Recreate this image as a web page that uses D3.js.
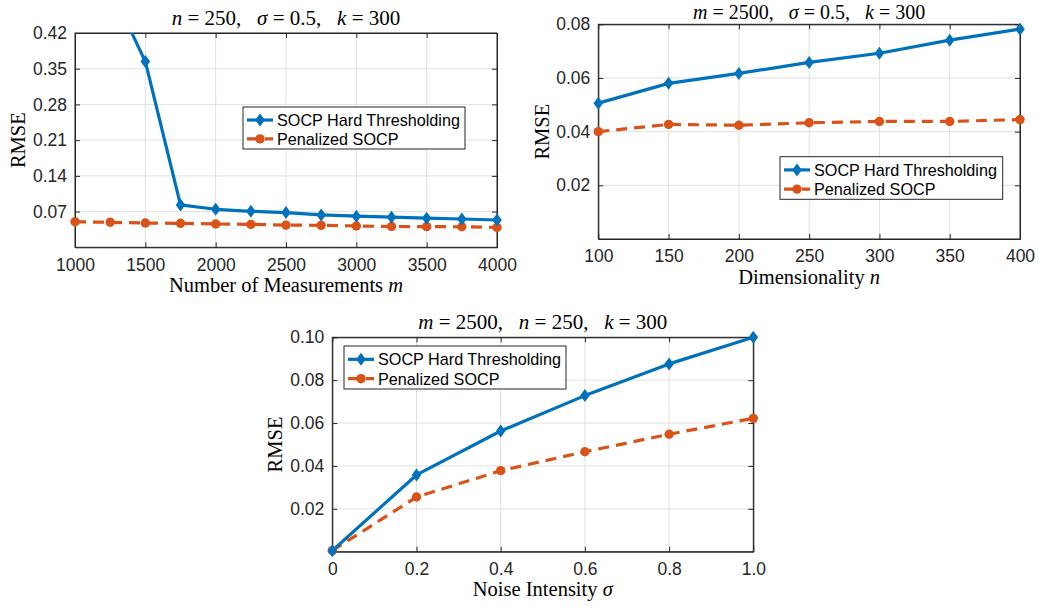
<!DOCTYPE html>
<html><head><meta charset="utf-8">
<script src="https://cdn.jsdelivr.net/npm/d3@7"></script>
<style>
html,body{margin:0;padding:0;background:#fff;}
svg{display:block;}
</style></head>
<body>
<svg id="chart" width="1038" height="606"></svg>
<script>
// ---------- data ----------
const seriesNames = ["SOCP Hard Thresholding", "Penalized SOCP"];

// Panel 1: vs number of measurements m (n=250, sigma=0.5, k=300)
const m1 = [1000, 1250, 1500, 1750, 2000, 2250, 2500, 2750, 3000, 3250, 3500, 3750, 4000];
const hard1 = [0.60, 0.51, 0.364, 0.083, 0.0745, 0.0705, 0.068, 0.0635, 0.061, 0.059, 0.057, 0.0555, 0.0535];
const pen1 = [0.050, 0.049, 0.0476, 0.047, 0.0457, 0.045, 0.0435, 0.0431, 0.0418, 0.0408, 0.0405, 0.0402, 0.039];
const xTicks1 = [1000, 1500, 2000, 2500, 3000, 3500, 4000];
const yTicks1 = [0.07, 0.14, 0.21, 0.28, 0.35, 0.42];
const yTickLabels1 = ["0.07", "0.14", "0.21", "0.28", "0.35", "0.42"];

// Panel 2: vs dimensionality n (m=2500, sigma=0.5, k=300)
const n2 = [100, 150, 200, 250, 300, 350, 400];
const hard2 = [0.0506, 0.058, 0.0617, 0.0658, 0.0692, 0.0741, 0.0782];
const pen2 = [0.0400, 0.0427, 0.0424, 0.0433, 0.0438, 0.0438, 0.0445];
const xTicks2 = [100, 150, 200, 250, 300, 350, 400];
const yTicks2 = [0.02, 0.04, 0.06, 0.08];
const yTickLabels2 = ["0.02", "0.04", "0.06", "0.08"];

// Panel 3: vs noise intensity sigma (m=2500, n=250, k=300)
const s3 = [0, 0.2, 0.4, 0.6, 0.8, 1.0];
const hard3 = [0.0005, 0.0358, 0.0563, 0.0728, 0.0876, 0.100];
const pen3 = [0.0005, 0.0255, 0.0378, 0.0466, 0.0548, 0.0622];
const xTicks3 = [0, 0.2, 0.4, 0.6, 0.8, 1.0];
const xTickLabels3 = ["0", "0.2", "0.4", "0.6", "0.8", "1.0"];
const yTicks3 = [0.02, 0.04, 0.06, 0.08, 0.10];
const yTickLabels3 = ["0.02", "0.04", "0.06", "0.08", "0.10"];

// ---------- style ----------
const BLUE = "#0072BD", ORANGE = "#D95319", AXIS = "#262626", GRID = "#e1e1e1";
const SANS = "'Liberation Sans', Arial, Helvetica, sans-serif";
const SERIF = "'Liberation Serif', 'Times New Roman', serif";

const svg = d3.select("#chart");
const defs = svg.append("defs");
let clipId = 0;

function mathText(g, parts) {
  parts.forEach(([t, it]) => {
    g.append("tspan").attr("font-style", it ? "italic" : "normal").text(t);
  });
}

function drawPanel(cfg) {
  const {left, right, top, bottom} = cfg.box;
  const x = d3.scaleLinear().domain(cfg.xDomain).range([left, right]);
  const y = d3.scaleLinear().domain(cfg.yDomain).range([bottom, top]);
  const g = svg.append("g");

  // grid
  const grid = g.append("g").attr("stroke", GRID).attr("stroke-width", 1);
  cfg.xTicks.forEach(t => {
    if (x(t) > left + 0.5 && x(t) < right - 0.5)
      grid.append("line").attr("x1", x(t)).attr("x2", x(t)).attr("y1", top).attr("y2", bottom);
  });
  cfg.yTicks.forEach(t => {
    if (y(t) > top + 0.5 && y(t) < bottom - 0.5)
      grid.append("line").attr("y1", y(t)).attr("y2", y(t)).attr("x1", left).attr("x2", right);
  });

  const fmtX = cfg.xTickLabels ? (d, i) => cfg.xTickLabels[i] : d3.format("d");
  const fmtY = (d, i) => cfg.yTickLabels[i];
  const axB = d3.axisBottom(x).tickValues(cfg.xTicks).tickFormat(fmtX).tickSizeInner(-5).tickSizeOuter(0).tickPadding(11);
  const axT = d3.axisTop(x).tickValues(cfg.xTicks).tickFormat("").tickSizeInner(-5).tickSizeOuter(0);
  const axL = d3.axisLeft(y).tickValues(cfg.yTicks).tickFormat(fmtY).tickSizeInner(-5).tickSizeOuter(0).tickPadding(8);
  const axR = d3.axisRight(y).tickValues(cfg.yTicks).tickFormat("").tickSizeInner(-5).tickSizeOuter(0);

  const styleAxis = sel => {
    sel.selectAll("path.domain").attr("stroke", AXIS).attr("stroke-width", 1);
    sel.selectAll(".tick line").attr("stroke", AXIS).attr("stroke-width", 1);
    sel.selectAll(".tick text").attr("fill", AXIS).attr("font-family", SANS).attr("font-size", 17.5);
  };
  const gB = g.append("g").attr("transform", `translate(0,${bottom})`).call(axB);
  const gT = g.append("g").attr("transform", `translate(0,${top})`).call(axT);
  const gL = g.append("g").attr("transform", `translate(${left},0)`).call(axL);
  const gR = g.append("g").attr("transform", `translate(${right},0)`).call(axR);
  [gB, gT, gL, gR].forEach(styleAxis);
  g.append("rect").attr("x", left).attr("y", top).attr("width", right - left).attr("height", bottom - top)
    .attr("fill", "none").attr("stroke", AXIS).attr("stroke-width", 1);

  const cid = "clip" + (clipId++);
  defs.append("clipPath").attr("id", cid).append("rect")
    .attr("x", left).attr("y", top).attr("width", right - left).attr("height", bottom - top);

  const line = d3.line().x(d => x(d[0])).y(d => y(d[1]));
  const hardPts = cfg.xs.map((v, i) => [v, cfg.hard[i]]);
  const penPts = cfg.xs.map((v, i) => [v, cfg.pen[i]]);

  const plot = g.append("g");
  plot.append("path").datum(penPts).attr("d", line).attr("clip-path", `url(#${cid})`)
    .attr("fill", "none").attr("stroke", ORANGE).attr("stroke-width", 3.2)
    .attr("stroke-dasharray", "11,7");
  plot.append("path").datum(hardPts).attr("d", line).attr("clip-path", `url(#${cid})`)
    .attr("fill", "none").attr("stroke", BLUE).attr("stroke-width", 3.2).attr("stroke-linejoin", "round");

  const inDom = d => d[1] >= cfg.yDomain[0] - 1e-9 && d[1] <= cfg.yDomain[1] + 1e-9;
  plot.selectAll("circle.pen").data(penPts.filter(inDom)).join("circle")
    .attr("cx", d => x(d[0])).attr("cy", d => y(d[1])).attr("r", 4.7).attr("fill", ORANGE);
  plot.selectAll("path.hard").data(hardPts.filter(inDom)).join("path")
    .attr("d", "M0,-6.5L4.8,0L0,6.5L-4.8,0Z")
    .attr("transform", d => `translate(${x(d[0])},${y(d[1])})`).attr("fill", BLUE);

  const title = g.append("text").attr("x", (left + right) / 2).attr("y", cfg.titleY)
    .attr("text-anchor", "middle").attr("font-family", SERIF).attr("font-size", cfg.titleSize || 21).attr("fill", "#000")
    .attr("xml:space", "preserve");
  mathText(title, cfg.title);

  const xl = g.append("text").attr("x", (left + right) / 2).attr("y", cfg.xLabelY)
    .attr("text-anchor", "middle").attr("font-family", SERIF).attr("font-size", 20.5).attr("fill", "#000");
  mathText(xl, cfg.xLabel);

  g.append("text").attr("transform", `translate(${cfg.yLabelX},${(top + bottom) / 2}) rotate(-90)`)
    .attr("text-anchor", "middle").attr("dominant-baseline", "central")
    .attr("font-family", SERIF).attr("font-size", 20.5).attr("fill", "#000").text("RMSE");

  const L = cfg.legend;
  const lg = g.append("g");
  lg.append("rect").attr("x", L.x).attr("y", L.y).attr("width", L.w).attr("height", L.h)
    .attr("fill", "#fff").attr("stroke", AXIS).attr("stroke-width", 1);
  const rows = [L.y + L.h * 0.31, L.y + L.h * 0.76];
  lg.append("line").attr("x1", L.x + 4).attr("x2", L.x + 30).attr("y1", rows[0]).attr("y2", rows[0])
    .attr("stroke", BLUE).attr("stroke-width", 3.2);
  lg.append("path").attr("d", "M0,-6.5L4.8,0L0,6.5L-4.8,0Z")
    .attr("transform", `translate(${L.x + 17},${rows[0]})`).attr("fill", BLUE);
  lg.append("line").attr("x1", L.x + 4).attr("x2", L.x + 30).attr("y1", rows[1]).attr("y2", rows[1])
    .attr("stroke", ORANGE).attr("stroke-width", 3.2).attr("stroke-dasharray", "11,7");
  lg.append("circle").attr("cx", L.x + 17).attr("cy", rows[1]).attr("r", 4.7).attr("fill", ORANGE);
  seriesNames.forEach((nm, i) => {
    lg.append("text").attr("x", L.x + 34).attr("y", rows[i]).attr("dominant-baseline", "central")
      .attr("font-family", SANS).attr("font-size", 16.2).attr("fill", "#000").text(nm);
  });
}

const SP = "\u00a0\u00a0\u00a0";

drawPanel({
  box: {left: 75, right: 497, top: 33, bottom: 247.3},
  xDomain: [1000, 4000], yDomain: [0, 0.42],
  xs: m1, hard: hard1, pen: pen1,
  xTicks: xTicks1, yTicks: yTicks1, yTickLabels: yTickLabels1,
  title: [["n", true], [" = 250," + SP, false], ["σ", true], [" = 0.5," + SP, false], ["k", true], [" = 300", false]],
  titleY: 25,
  xLabel: [["Number of Measurements ", false], ["m", true]],
  xLabelY: 292, yLabelX: 18,
  legend: {x: 243, y: 107, w: 222, h: 42}
});

drawPanel({
  box: {left: 598.3, right: 1020, top: 24.3, bottom: 239},
  xDomain: [100, 400], yDomain: [0, 0.08],
  xs: n2, hard: hard2, pen: pen2,
  xTicks: xTicks2, yTicks: yTicks2, yTickLabels: yTickLabels2,
  title: [["m", true], [" = 2500," + SP, false], ["σ", true], [" = 0.5," + SP, false], ["k", true], [" = 300", false]],
  titleY: 19, titleSize: 20,
  xLabel: [["Dimensionality ", false], ["n", true]],
  xLabelY: 284, yLabelX: 541.7,
  legend: {x: 780, y: 156.7, w: 222.7, h: 42.6}
});

drawPanel({
  box: {left: 332.3, right: 753.3, top: 337.3, bottom: 551.7},
  xDomain: [0, 1], yDomain: [0, 0.10],
  xs: s3, hard: hard3, pen: pen3,
  xTicks: xTicks3, xTickLabels: xTickLabels3, yTicks: yTicks3, yTickLabels: yTickLabels3,
  title: [["m", true], [" = 2500," + SP, false], ["n", true], [" = 250," + SP, false], ["k", true], [" = 300", false]],
  titleY: 329,
  xLabel: [["Noise Intensity ", false], ["σ", true]],
  xLabelY: 596, yLabelX: 275,
  legend: {x: 344, y: 346, w: 222, h: 43}
});
</script>
</body></html>
